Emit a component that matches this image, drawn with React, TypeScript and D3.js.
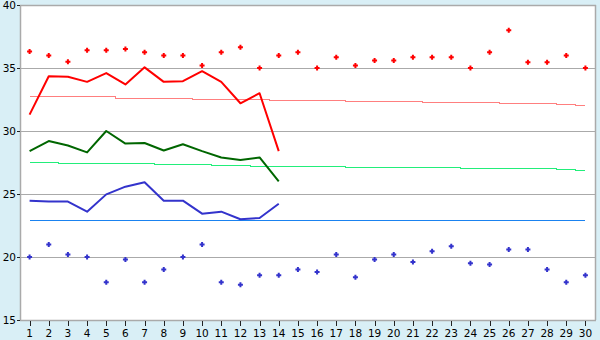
import React from "react";
import * as d3 from "d3";

const days: number[] = Array.from({ length: 30 }, (_, i) => i + 1);

const maxObserved: number[] = [31.3, 34.35, 34.3, 33.9, 34.6, 33.7, 35.05, 33.9, 33.95, 34.75, 33.9, 32.2, 33.0, 28.4];
const avgObserved: number[] = [28.4, 29.2, 28.85, 28.3, 30.0, 29.0, 29.05, 28.45, 28.95, 28.4, 27.9, 27.7, 27.9, 26.0];
const minObserved: number[] = [24.47, 24.4, 24.4, 23.6, 24.97, 25.58, 25.93, 24.47, 24.47, 23.44, 23.6, 23.0, 23.1, 24.23];

const recordMax: number[] = [36.3, 36.0, 35.5, 36.4, 36.4, 36.5, 36.25, 36.0, 36.0, 35.2, 36.25, 36.65, 35.0, 36.0, 36.25, 35.0, 35.85, 35.2, 35.6, 35.6, 35.85, 35.85, 35.85, 35.0, 36.25, 38.0, 35.45, 35.45, 36.0, 35.0];
const recordMin: number[] = [20.0, 21.0, 20.2, 20.0, 18.0, 19.8, 18.0, 19.0, 20.0, 21.0, 18.0, 17.8, 18.55, 18.55, 19.0, 18.8, 20.2, 18.4, 19.8, 20.2, 19.6, 20.45, 20.85, 19.5, 19.4, 20.6, 20.6, 19.0, 18.0, 18.55];

const normalMax: number[] = [32.78, 32.78, 32.78, 32.78, 32.78, 32.62, 32.62, 32.62, 32.62, 32.52, 32.52, 32.52, 32.52, 32.44, 32.44, 32.44, 32.44, 32.36, 32.36, 32.36, 32.36, 32.28, 32.28, 32.28, 32.28, 32.2, 32.2, 32.2, 32.12, 32.04];
const normalAvg: number[] = [27.52, 27.52, 27.44, 27.44, 27.44, 27.44, 27.44, 27.36, 27.36, 27.36, 27.28, 27.28, 27.2, 27.2, 27.2, 27.2, 27.2, 27.12, 27.12, 27.12, 27.12, 27.12, 27.12, 27.04, 27.04, 27.04, 27.04, 27.04, 26.96, 26.9];
const normalMin: number[] = Array.from({ length: 30 }, () => 22.9);

const yTicks: number[] = [15, 20, 25, 30, 35, 40];

const W = 600;
const H = 340;
const L = 20;
const R = 595;
const T = 5;
const B = 320;

const plus = "M-1,-2.5H1V-1H2.5V1H1V2.5H-1V1H-2.5V-1H-1Z";

export default function App() {
  const x = d3.scaleBand<number>().domain(days).range([L, R]).padding(0);
  const cx = (d: number) => (x(d) as number) + x.bandwidth() / 2;
  const y = d3.scaleLinear().domain([15, 40]).range([B, T]);

  const line = (vals: number[]) =>
    d3
      .line<number>()
      .x((_, i) => cx(days[i]))
      .y((v) => y(v))(vals) as string;

  const stepLine = (vals: number[]) =>
    d3
      .line<number>()
      .x((_, i) => cx(days[i]))
      .y((v) => Math.round(y(v)) + 0.5)
      .curve(d3.curveStep)(vals) as string;

  const font = "'DejaVu Sans', Verdana, sans-serif";

  return (
    <svg
      width={W}
      height={H}
      style={{ position: "fixed", left: 0, top: 0, display: "block" }}
      fontFamily={font}
    >
      <rect x={0} y={0} width={W} height={H} fill="#d9eff6" />
      <rect x={L} y={T} width={R - L} height={B - T} fill="#ffffff" />
      {yTicks.slice(1, -1).map((t) => (
        <line key={"g" + t} x1={L} x2={R} y1={Math.round(y(t)) + 0.5} y2={Math.round(y(t)) + 0.5} stroke="#aaaaaa" strokeWidth={1} />
      ))}
      {/* border */}
      <line x1={L} x2={R + 1} y1={T + 0.5} y2={T + 0.5} stroke="#aaaaaa" strokeWidth={1.5} />
      <line x1={R + 0.5} x2={R + 0.5} y1={T} y2={B} stroke="#aaaaaa" strokeWidth={1.5} />
      <line x1={L} x2={R + 1} y1={B + 0.5} y2={B + 0.5} stroke="#aaaaaa" strokeWidth={1.5} />
      <line x1={L + 0.5} x2={L + 0.5} y1={T} y2={B + 1} stroke="#aaaaaa" strokeWidth={1.5} />

      {/* y axis ticks & labels */}
      {yTicks.map((t) => (
        <g key={"y" + t}>
          <line x1={L - 3} x2={L} y1={Math.round(y(t)) + 0.5} y2={Math.round(y(t)) + 0.5} stroke="#222" strokeWidth={1} />
          <text x={L - 4} y={y(t)} dy="0.35em" textAnchor="end" fontSize={10.5} fill="#000">
            {t}
          </text>
        </g>
      ))}
      {/* x axis ticks & labels */}
      {days.map((d) => (
        <g key={"x" + d}>
          <line x1={Math.round(cx(d)) + 0.5} x2={Math.round(cx(d)) + 0.5} y1={B + 1} y2={B + 6} stroke="#222" strokeWidth={1} />
          <text x={cx(d)} y={337} textAnchor="middle" fontSize={10.5} fill="#000">
            {d}
          </text>
        </g>
      ))}

      {/* normals */}
      <path d={stepLine(normalMax)} fill="none" stroke="#ff7f7f" strokeWidth={1} shapeRendering="crispEdges" />
      <path d={stepLine(normalAvg)} fill="none" stroke="#22ee7a" strokeWidth={1} shapeRendering="crispEdges" />
      <path d={stepLine(normalMin)} fill="none" stroke="#1a82f0" strokeWidth={1} shapeRendering="crispEdges" />

      {/* observed */}
      <path d={line(maxObserved)} fill="none" stroke="#ff0000" strokeWidth={2} strokeLinejoin="round" />
      <path d={line(avgObserved)} fill="none" stroke="#006600" strokeWidth={2} strokeLinejoin="round" />
      <path d={line(minObserved)} fill="none" stroke="#3333cc" strokeWidth={2} strokeLinejoin="round" />

      {/* records */}
      {recordMax.map((v, i) => (
        <path key={"rm" + i} d={plus} transform={`translate(${cx(days[i])},${y(v)})`} fill="#ff0000" />
      ))}
      {recordMin.map((v, i) => (
        <path key={"rn" + i} d={plus} transform={`translate(${cx(days[i])},${y(v)})`} fill="#3333cc" />
      ))}
    </svg>
  );
}
